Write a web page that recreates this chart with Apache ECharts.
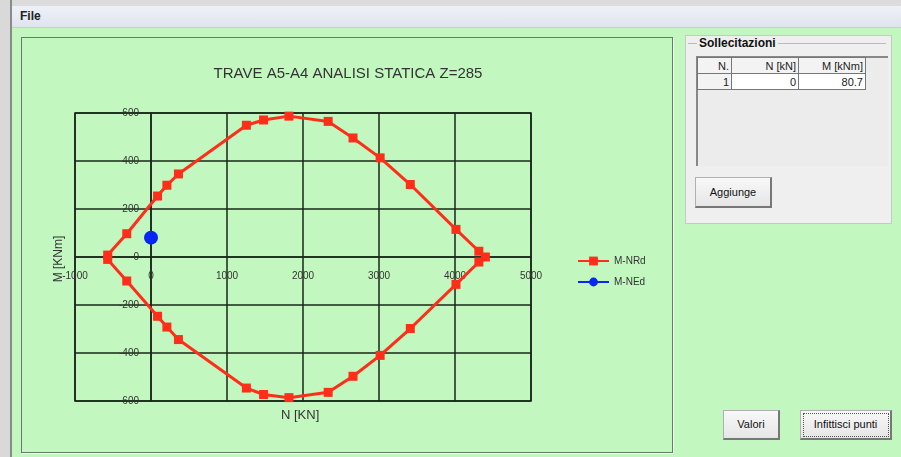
<!DOCTYPE html>
<html><head><meta charset="utf-8">
<script src="https://cdn.jsdelivr.net/npm/echarts@6/dist/echarts.min.js"></script>
<style>
html,body{margin:0;padding:0;width:901px;height:457px;overflow:hidden;background:#c2f7bf;font-family:"Liberation Sans",Arial,sans-serif;}
#frameL{position:absolute;left:0;top:0;width:10px;height:457px;background:#d9d9d9;border-right:2px solid #8a8a8a;}
#topbar{position:absolute;left:0;top:0;width:901px;height:6px;background:#dcdcdc;}
#menu{position:absolute;left:12px;top:6px;width:889px;height:21px;background:linear-gradient(#eef1f7,#dfe4ee);border-bottom:1px solid #c8ccd6;}
#menu span{position:absolute;left:8px;top:3px;font-size:12px;font-weight:bold;color:#222;}
#panel{position:absolute;left:21px;top:37px;width:650px;height:414px;border:1px solid #6a7a6a;box-shadow:1px 1px 0 #f4fff4;}
#chart{position:absolute;left:0;top:0;width:901px;height:457px;}
#grp{position:absolute;left:685px;top:35px;width:205px;height:187px;background:#efefef;border:1px solid #c8c8c8;}
#grpT{position:absolute;left:697px;top:36px;font-size:12px;font-weight:bold;color:#111;background:#efefef;padding:0 2px;}
#grpL{position:absolute;left:688px;top:43px;width:198px;height:1px;background:#bbb;}
#tbl{position:absolute;left:696px;top:56px;width:190px;height:108px;border-left:2px solid #888;border-top:2px solid #888;background:#ececec;}
table{position:absolute;left:697px;top:57px;border-collapse:collapse;font-size:11px;color:#222;}
td{border:1px solid #777;text-align:right;padding:0 2px;height:15px;}
.h{background:#f3f3f3;}
.w{background:#fff;}
.btn{position:absolute;font-size:11px;color:#111;background:linear-gradient(#f8f8f8,#e6e6e6);border:1px solid #b0b0b0;border-right:2px solid #777;border-bottom:2px solid #777;text-align:center;}
</style></head>
<body>
<div id="topbar"></div>
<div id="frameL"></div>
<div id="menu"><span>File</span></div>
<div id="panel"></div>
<div id="grp"></div>
<div id="grpL"></div>
<div id="grpT">Sollecitazioni</div>
<div id="tbl"></div>
<table>
<tr class="h"><td style="width:29px">N.</td><td style="width:62px">N [kN]</td><td style="width:62px">M [kNm]</td></tr>
<tr><td class="h">1</td><td class="w">0</td><td class="w">80.7</td></tr>
</table>
<div class="btn" style="left:695px;top:177px;width:74px;height:28px;line-height:28px;">Aggiunge</div>
<div class="btn" style="left:723px;top:410px;width:54px;height:27px;line-height:27px;">Valori</div>
<div class="btn" style="left:800px;top:410px;width:89px;height:27px;line-height:27px;outline:1px dotted #555;outline-offset:-4px;">Infittisci punti</div>
<div id="chart"></div>
<script>
// Tick labels / axis
var xTicks = [-1000, 0, 1000, 2000, 3000, 4000, 5000];
var yTicks = [-600, -400, -200, 0, 200, 400, 600];
// M-NRd interaction domain (N [kN], M [kNm])
var nRd = [-570, -319, 86, 209, 361, 1255, 1481, 1815, 2331, 2658, 3015, 3412, 4013, 4314, 4400, 4314, 4013, 3412, 3015, 2658, 2331, 1815, 1481, 1255, 361, 209, 86, -319, -570];
var mRd = [8, 97, 254, 299, 346, 549, 571, 587, 565, 496, 413, 302, 115, 24, 0, -21, -114, -298, -410, -497, -564, -586, -573, -546, -344, -292, -247, -100, -10];
// M-NEd design action
var nEd = [0];
var mEd = [80.7];

var rdData = nRd.map(function(n, i){ return [n, mRd[i]]; });
var edData = nEd.map(function(n, i){ return [n, mEd[i]]; });

var G = {left:75, top:113, width:456, height:288};
var xMin = xTicks[0], xMax = xTicks[xTicks.length-1];
var yMin = yTicks[0], yMax = yTicks[yTicks.length-1];
// place axes through the origin (0,0)
var xOff = -(0 - yMin) / (yMax - yMin) * G.height;
var yOff = -(0 - xMin) / (xMax - xMin) * G.width;

var chart = echarts.init(document.getElementById('chart'), null, {renderer:'canvas'});
var lineC = '#1a261a';
var lblStyle = {color:'#333', fontSize:10, fontFamily:'Liberation Sans', formatter:function(v){return String(v);}};
chart.setOption({
  backgroundColor:'transparent',
  animation:false,
  title:{text:'TRAVE A5-A4 ANALISI STATICA Z=285', left:343, top:61, textAlign:'center',
    textStyle:{fontSize:15, fontWeight:'normal', color:'#333', fontFamily:'Liberation Sans'}},
  grid:{left:G.left, top:G.top, width:G.width, height:G.height, show:true, borderColor:lineC, borderWidth:1.5, backgroundColor:'transparent'},
  xAxis:{type:'value', min:xMin, max:xMax, interval:1000, position:'bottom', offset:xOff,
    axisLine:{onZero:false, lineStyle:{color:lineC, width:1.5}}, axisTick:{show:false},
    axisLabel:Object.assign({margin:14}, lblStyle),
    splitLine:{show:true, lineStyle:{color:lineC, width:1.5}}},
  yAxis:{type:'value', min:yMin, max:yMax, interval:200, position:'left', offset:yOff,
    axisLine:{onZero:false, lineStyle:{color:lineC, width:1.5}}, axisTick:{show:false},
    axisLabel:Object.assign({margin:12}, lblStyle),
    splitLine:{show:true, lineStyle:{color:lineC, width:1.5}}},
  legend:{orient:'vertical', left:572, top:251, itemWidth:31, itemHeight:11, itemGap:11,
    textStyle:{fontSize:10, color:'#333', fontFamily:'Liberation Sans'},
    data:['M-NRd','M-NEd']},
  graphic:[
    {type:'text', left:281, top:409, style:{text:'N [KN]', fontSize:13, fill:'#333', fontFamily:'Liberation Sans'}},
    {type:'text', x:59, y:259, rotation:Math.PI/2, style:{text:'M [KNm]', fontSize:12, fill:'#333', fontFamily:'Liberation Sans', align:'center', verticalAlign:'middle'}}
  ],
  series:[
    {name:'M-NRd', type:'line', data:rdData, symbol:'rect', symbolSize:9, showAllSymbol:true,
      lineStyle:{color:'#ff2e1a', width:3}, itemStyle:{color:'#ff2e1a'}, z:3},
    {name:'M-NEd', type:'line', data:edData, symbol:'circle', symbolSize:14,
      lineStyle:{color:'#0628f2', width:3}, itemStyle:{color:'#0628f2'}, z:4}
  ]
});
</script>
</body></html>
